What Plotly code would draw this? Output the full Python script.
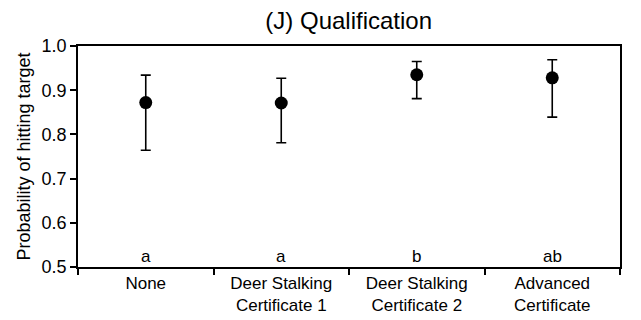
import plotly.graph_objects as go

categories = ["None", "Deer Stalking<br>Certificate 1", "Deer Stalking<br>Certificate 2", "Advanced<br>Certificate"]
means = [0.872, 0.871, 0.935, 0.928]
upper = [0.934, 0.927, 0.965, 0.969]
lower = [0.764, 0.781, 0.881, 0.839]
letters = ["a", "a", "b", "ab"]
yticks = [0.5, 0.6, 0.7, 0.8, 0.9, 1.0]

err_plus = [u - m for u, m in zip(upper, means)]
err_minus = [m - l for m, l in zip(means, lower)]

fig = go.Figure()
fig.add_trace(go.Scatter(
    x=categories, y=means, mode="markers",
    marker=dict(color="black", size=13),
    error_y=dict(type="data", array=err_plus, arrayminus=err_minus,
                 color="black", thickness=1.6, width=5),
    showlegend=False,
))

for c, l in zip(categories, letters):
    fig.add_annotation(x=c, y=0.5, text=l, showarrow=False, yanchor="bottom",
                       yshift=-1, font=dict(size=17, color="black"))

fig.update_layout(
    width=641, height=320,
    margin=dict(l=78, r=21, t=46, b=53),
    paper_bgcolor="white", plot_bgcolor="white",
    font=dict(family="Liberation Sans, Arial, sans-serif", color="black"),
    title=dict(text="(J) Qualification", x=0.544, xanchor="center", y=0.935, yanchor="middle",
               font=dict(size=24, color="black")),
)
fig.update_xaxes(
    type="category", tickson="boundaries", ticks="outside", ticklen=6, tickwidth=1.5,
    tickcolor="black", showline=True, linecolor="black", linewidth=1.5, mirror=True,
    showgrid=False, tickfont=dict(size=17, color="black"), automargin=False,
    ticklabelstandoff=0, range=[-0.5, 3.5],
)
fig.update_yaxes(
    range=[0.5, 1.0], tickvals=yticks, ticktext=[f"{v:.1f}" for v in yticks],
    ticks="outside", ticklen=6, tickwidth=1.5, tickcolor="black",
    showline=True, linecolor="black", linewidth=1.5, mirror=True, showgrid=False,
    zeroline=False, tickfont=dict(size=18, color="black"), automargin=False,
    title=dict(text="Probability of hitting target", font=dict(size=18, color="black"), standoff=6),
)

fig.write_html("out.html")
